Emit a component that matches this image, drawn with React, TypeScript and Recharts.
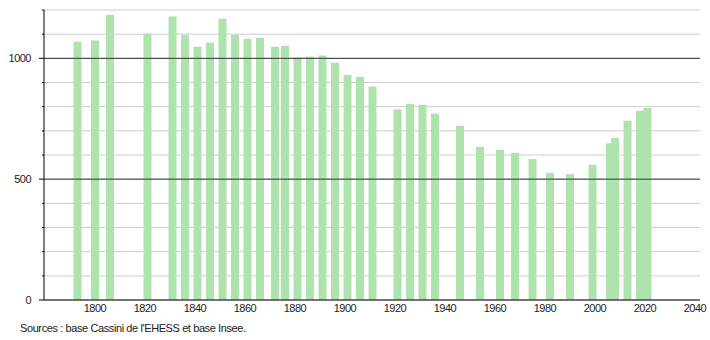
import React from "react";
import { BarChart, Bar, XAxis, YAxis, CartesianGrid, ReferenceLine } from "recharts";

const years = [1793, 1800, 1806, 1821, 1831, 1836, 1841, 1846, 1851, 1856, 1861, 1866, 1872, 1876, 1881, 1886, 1891, 1896, 1901, 1906, 1911, 1921, 1926, 1931, 1936, 1946, 1954, 1962, 1968, 1975, 1982, 1990, 1999, 2006, 2008, 2013, 2018, 2021];
const population = [1069, 1074, 1180, 1102, 1173, 1096, 1048, 1065, 1164, 1096, 1081, 1085, 1048, 1052, 1004, 1007, 1012, 982, 931, 924, 883, 789, 812, 808, 771, 721, 634, 622, 609, 583, 526, 521, 560, 648, 671, 742, 783, 795];
const xTicks = [1800, 1820, 1840, 1860, 1880, 1900, 1920, 1940, 1960, 1980, 2000, 2020, 2040];
const yTicks = [0, 100, 200, 300, 400, 500, 600, 700, 800, 900, 1000, 1100, 1200];
const yLabelled = [0, 500, 1000];
const majorLines = [500, 1000];
const sourceText = "Sources : base Cassini de l'EHESS et base Insee.";

const data = years.map((y, i) => ({ year: y, pop: population[i] }));

const AXIS_X = 44;
const BAR_W = 8;
const FONT = "'Liberation Sans', Arial, sans-serif";

const YTick = (props: any) => {
  const { y, payload } = props;
  const v = payload.value;
  const major = yLabelled.includes(v);
  return (
    <g>
      <line x1={AXIS_X - (major ? 5 : 2)} x2={AXIS_X} y1={y} y2={y} stroke="#000" strokeWidth={1} />
      {major && (
        <text x={AXIS_X - 13} y={y} dy="0.35em" textAnchor="end" fontSize={11} letterSpacing={-0.5} fill="#222" fontFamily={FONT}>
          {v}
        </text>
      )}
    </g>
  );
};

const WideBar = (props: any) => {
  const { x, y, width, height, fill } = props;
  if (height == null || height <= 0) return null;
  const cx = x + width / 2;
  return <rect x={cx - BAR_W / 2} y={y} width={BAR_W} height={height} fill={fill} />;
};

export default function App() {
  return (
    <div style={{ position: "absolute", left: 0, top: 0, width: 710, height: 340, background: "#fff" }}>
      <BarChart width={710} height={340} data={data} margin={{ top: 10, right: 10, bottom: 10, left: 0 }}>
        <CartesianGrid vertical={false} stroke="#cccccc" strokeWidth={1} />
        {majorLines.map((v) => (
          <ReferenceLine key={v} y={v} stroke="#333" strokeWidth={1} />
        ))}
        <XAxis
          dataKey="year"
          type="number"
          domain={[1779.6, 2042]}
          ticks={xTicks}
          allowDataOverflow
          height={30}
          tickLine={false}
          tickSize={4}
          tickMargin={0}
          axisLine={{ stroke: "#000" }}
          tick={{ fontSize: 11, fill: "#222", fontFamily: FONT, letterSpacing: -0.5 }}
          interval={0}
        />
        <YAxis
          type="number"
          domain={[0, 1200]}
          ticks={yTicks}
          width={44}
          interval={0}
          tickLine={false}
          axisLine={{ stroke: "#000" }}
          tick={<YTick />}
        />
        <Bar dataKey="pop" fill="#aee3ae" shape={<WideBar />} isAnimationActive={false} />
      </BarChart>
      <div
        style={{
          position: "absolute",
          left: 20,
          top: 322,
          fontSize: 11,
          lineHeight: "12px",
          letterSpacing: -0.4,
          fontFamily: FONT,
          color: "#222",
          whiteSpace: "nowrap",
        }}
      >
        {sourceText}
      </div>
    </div>
  );
}
